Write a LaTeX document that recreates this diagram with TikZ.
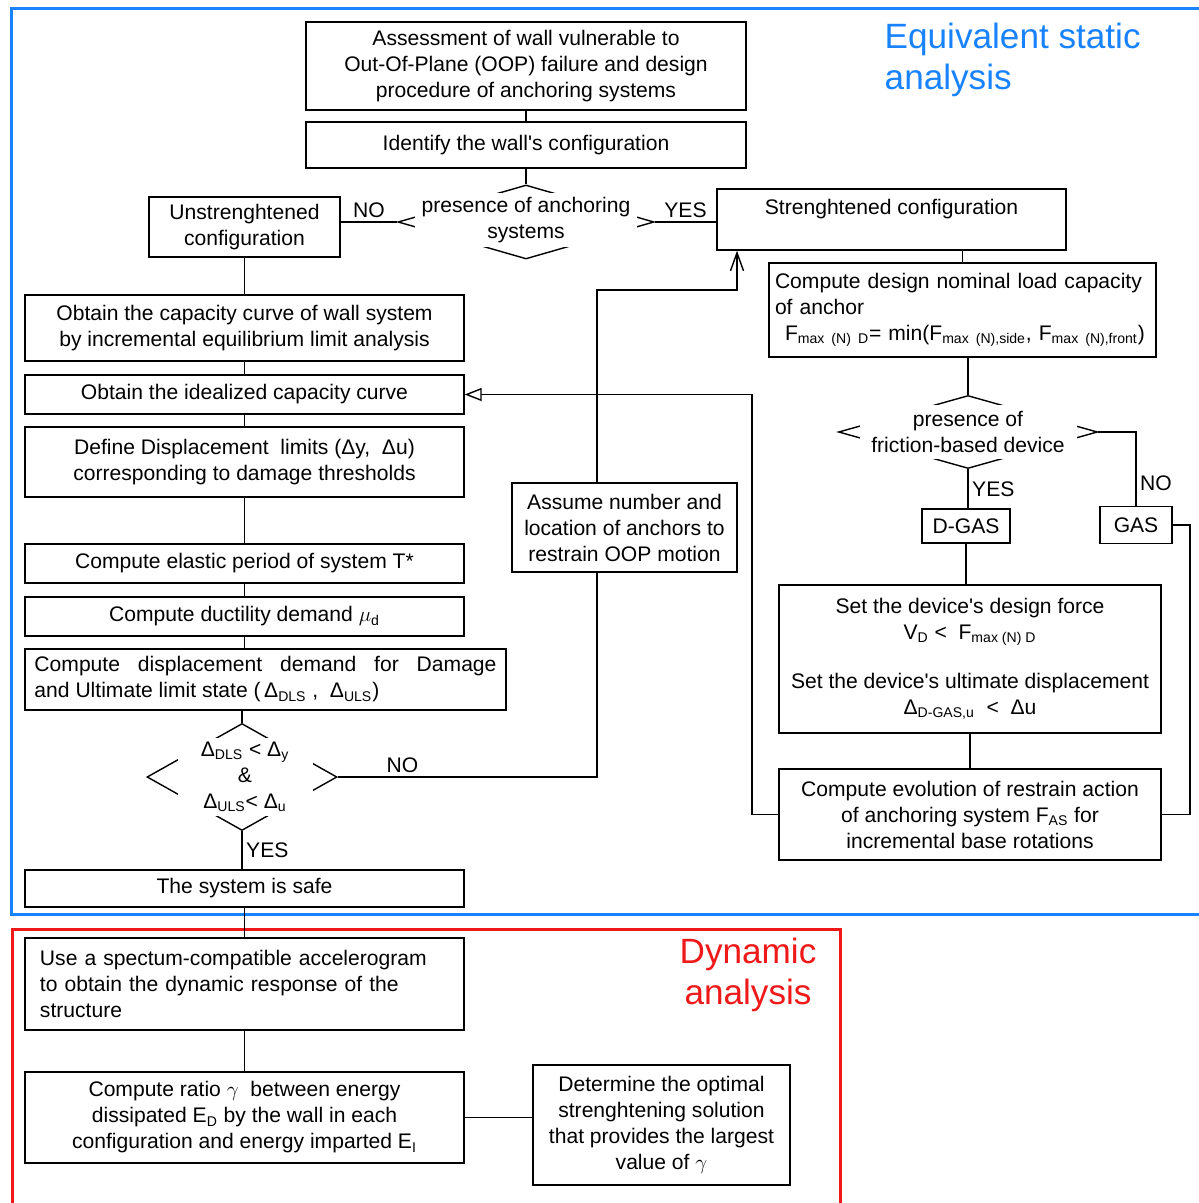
\documentclass[tikz,border=0pt]{standalone}
\usepackage{fontspec}
\setmainfont{Liberation Sans}[Ligatures=TeXOff]
\usetikzlibrary{shapes.geometric, arrows.meta, positioning}
\definecolor{staticblue}{RGB}{25,130,255}
\definecolor{dynred}{RGB}{240,25,25}

\begin{document}
\begin{tikzpicture}[x=0.2mm, y=-0.2mm, line width=0.8pt,
    box/.style={draw, align=center, inner sep=0pt, font=\fontsize{12}{14.8}\selectfont},
    decision/.style={draw, diamond, inner sep=0pt},
    dtext/.style={fill=white, align=center, inner sep=0pt, font=\fontsize{12}{14.8}\selectfont},
    lbl/.style={font=\fontsize{12}{14.8}\selectfont, inner sep=2pt},
    title/.style={font=\fontsize{20}{23}\selectfont, inner sep=0pt}]
    \useasboundingbox (0,0) rectangle (1198,1203);

    % the two analysis frames
    \draw[staticblue, line width=0.6mm] (1230,9) -- (11,9) -- (11,914) -- (1230,914);
    \draw[dynred, line width=0.6mm] (12,1230) -- (12,929) -- (840,929) -- (840,1230);
    \node[title, staticblue, align=left, anchor=west] (eqtitle) at (884,60) {Equivalent static\\analysis};
    \node[title, dynred, align=center] (dyntitle) at (748,975) {Dynamic\\analysis};

    % top of the procedure
    \node[box, minimum width=88mm, minimum height=17.6mm] (assess) at (526,66)
        {Assessment of wall vulnerable to\\Out-Of-Plane (OOP) failure and design\\procedure of anchoring systems};
    \node[box, minimum width=88mm, minimum height=9.2mm] (ident) at (526,145) {Identify the wall's configuration};
    \node[decision, minimum width=51.2mm, minimum height=14.8mm] (anch) at (526,222) {};
    \node[dtext, minimum width=44.4mm, minimum height=10.8mm] (anchtxt) at (526,220) {presence of anchoring\\systems};
    \node[box, minimum width=38.2mm, minimum height=12mm] (unstr) at (244.5,227) {Unstrenghtened\\configuration};
    \node[box, minimum width=69.8mm, minimum height=12.2mm] (streng) at (891.5,219.5) {Strenghtened configuration\\\mbox{}};

    % unstrengthened branch
    \node[box, minimum width=87.8mm, minimum height=13.2mm] (capcurve) at (244.5,328)
        {Obtain the capacity curve of wall system\\by incremental equilibrium limit analysis};
    \node[box, minimum width=87.8mm, minimum height=7.8mm] (ideal) at (244.5,394.5) {Obtain the idealized capacity curve};
    \node[box, minimum width=87.8mm, minimum height=14mm] (limits) at (244.5,462)
        {Define Displacement\ \ limits (Δy,\ \ Δu)\\corresponding to damage thresholds};
    \node[box, minimum width=87.8mm, minimum height=7.8mm] (period) at (244.5,563.5) {Compute elastic period of system T*};
    \node[box, minimum width=87.8mm, minimum height=7.8mm] (duct) at (244.5,616.5) {Compute ductility demand $\mu$\textsubscript{d}};
    \node[box, align=justify, text width=92.4mm, minimum height=12.2mm, inner xsep=1.9mm] (demand) at (265.5,679.5)
        {Compute displacement demand for Damage\linebreak and Ultimate limit state (\,Δ\textsubscript{DLS}\ ,\ \ Δ\textsubscript{ULS})};
    \node[decision, minimum width=38mm, minimum height=21.4mm] (check) at (242,777) {};
    \node[dtext, minimum width=27mm, minimum height=15.6mm] (checktxt) at (245,777)
        {Δ\textsubscript{DLS} < Δ\textsubscript{y}\\\&\\Δ\textsubscript{ULS}< Δ\textsubscript{u}};
    \node[box, minimum width=87.8mm, minimum height=7.4mm] (safe) at (244.5,888.5) {The system is safe};
    \node[box, minimum width=45mm, minimum height=17.8mm] (assume) at (624.5,527.5)
        {Assume number and\\location of anchors to\\restrain OOP motion};

    % strengthened branch
    \node[box, align=left, text width=75mm, inner xsep=1.2mm, minimum height=18.8mm] (capdes) at (962.5,310)
        {Compute design nominal load capacity\\of anchor\\\hspace*{2mm}F\textsubscript{max (N) D}= min(F\textsubscript{max (N),side}, F\textsubscript{max (N),front})};
    \node[decision, minimum width=51.8mm, minimum height=14.6mm] (fric) at (968,432) {};
    \node[dtext, minimum width=43.4mm, minimum height=10.8mm] (frictxt) at (fric) {presence of\\friction-based device};
    \node[box, minimum width=17.6mm, minimum height=6.8mm] (dgas) at (966,526) {D-GAS};
    \node[box, minimum width=14.4mm, minimum height=7.4mm] (gas) at (1136,525) {GAS};
    \node[box, minimum width=76.4mm, minimum height=29.6mm] (setdev) at (970,659)
        {Set the device's design force\\V\textsubscript{D} <\ \ F\textsubscript{max (N) D}\\[4.6mm]Set the device's ultimate displacement\\Δ\textsubscript{D-GAS,u}\ \ <\ \ Δu};
    \node[box, minimum width=76.4mm, minimum height=18.2mm] (evol) at (970,814.5)
        {Compute evolution of restrain action\\of anchoring system F\textsubscript{AS} for\\incremental base rotations};

    % dynamic analysis
    \node[box, align=left, text width=81.8mm, inner xsep=3mm, minimum height=18.4mm] (accel) at (244.5,984)
        {Use a spectum-compatible accelerogram\\to obtain the dynamic response of the\\structure};
    \node[box, minimum width=87.8mm, minimum height=18.2mm] (ratio) at (244.5,1117.5)
        {Compute ratio $\gamma$\ \ between energy\\dissipated E\textsubscript{D} by the wall in each\\configuration and energy imparted E\textsubscript{I}};
    \node[box, minimum width=51.4mm, minimum height=24mm] (optim) at (661.5,1125)
        {Determine the optimal\\strenghtening solution\\that provides the largest\\value of $\gamma$};

    \coordinate (noup) at (597,290);
    \coordinate (noin) at (737,290);
    \coordinate (back) at (752,0);
    \coordinate (gasrt) at (1190,525);

    % connectors
    \draw (assess) -- (ident);
    \draw (ident.south) -- (anch.north);
    \draw (anch.west) -- node[lbl, above] {NO} (anch.west -| unstr.east);
    \draw (anch.east) -- node[lbl, above] {YES} (anch.east -| streng.west);
    \foreach \a/\b in {unstr/capcurve, capcurve/ideal, ideal/limits, limits/period, period/duct}
        \draw (\a) -- (\b);
    \draw (duct.south) -- (duct.south |- demand.north);
    \draw (check.north |- demand.south) -- (check.north);
    \draw (check.south) -- node[lbl, right] {YES} (check.south |- safe.north);
    \draw (check.east) -- node[lbl, above, pos=0.25] {NO} (check.east -| noup) -- (noup |- assume.south);
    \draw[-{Straight Barb[length=3.6mm, width=2.6mm]}] (noup |- assume.north) -- (noup) -- (noin) -- (noin |- streng.south);
    \draw (capdes.north |- streng.south) -- (capdes.north);
    \draw (fric.north |- capdes.south) -- (fric.north);
    \draw (fric.south) -- node[lbl, right] {YES} (fric.south |- dgas.north);
    \draw (fric.east) -| node[lbl, right, pos=0.85] {NO} (gas.north);
    \draw (dgas.south) -- (dgas.south |- setdev.north);
    \draw (setdev) -- (evol);
    \draw (gas.east) -- (gasrt) |- (evol.east);
    \draw[-{Triangle[open, length=3.4mm, width=2.6mm]}] (evol.west) -| (back |- ideal.east) -- (ideal.east);
    \draw (safe) -- (accel);
    \draw (accel) -- (ratio);
    \draw (ratio.east) -- (ratio.east -| optim.west);
\end{tikzpicture}
\end{document}
